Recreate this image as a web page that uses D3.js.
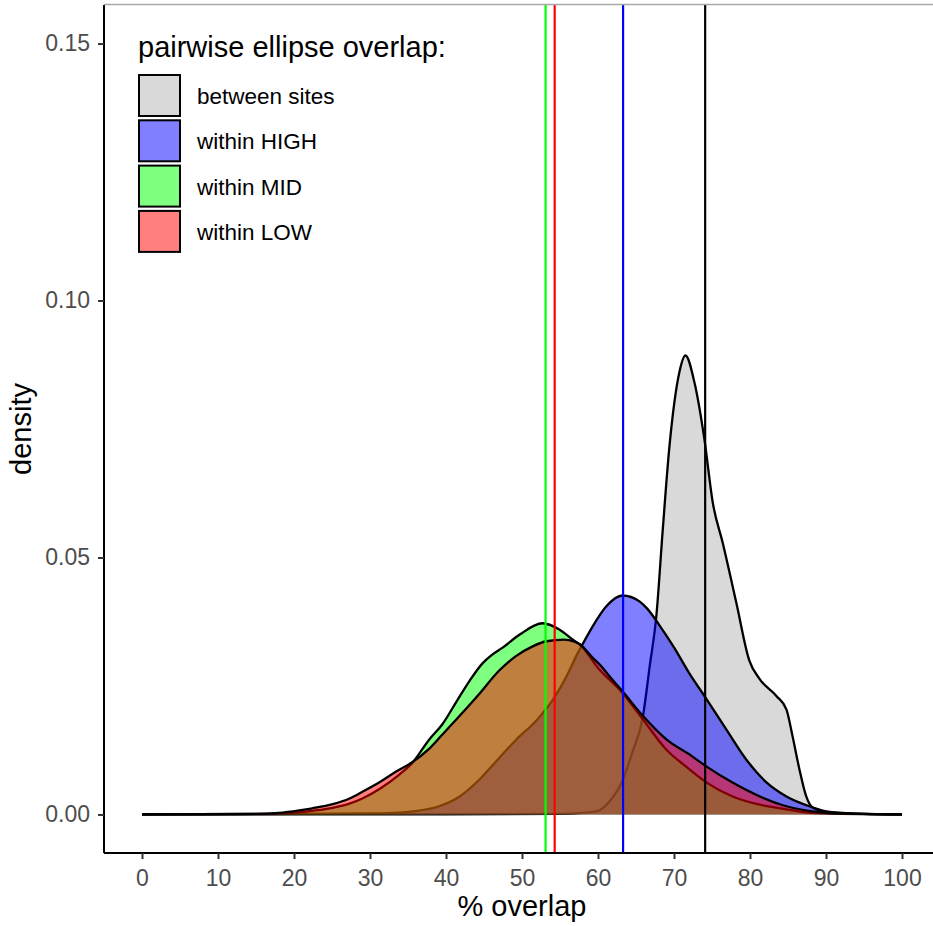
<!DOCTYPE html>
<html>
<head>
<meta charset="utf-8">
<script src="https://cdn.jsdelivr.net/npm/d3@7"></script>
<style>
  body { margin: 0; background: #fff; }
  text { font-family: "Liberation Sans", Arial, sans-serif; }
</style>
</head>
<body>
<div id="chart"></div>
<script>
// ---- DATA ----------------------------------------------
var seriesNames = ["between sites", "within HIGH", "within MID", "within LOW"];
var fillColors = ["#d9d9d9", "#0000ff", "#00ff00", "#ff0000"];
var fillAlpha = [1, 0.5, 0.5, 0.5];
var lineColors = ["#000000", "#0000ff", "#00ff00", "#ff0000"];
var meanOverlap = [74.1, 63.3, 53.1, 54.3];

var betweenX = [0, 40, 55, 58, 60, 61.5, 63.2, 64.5, 65.9, 66.8, 67.7, 68.5, 69.4, 70.7, 71.5, 72.7, 74, 75.1, 76.4, 78.2, 79.9, 81.3, 83.5, 84.8, 85.6, 86.5, 87.4, 88.2, 90, 93, 100];
var betweenY = [0, 0, 0.0001, 0.0003, 0.0007, 0.0025, 0.0065, 0.012, 0.019, 0.0288, 0.039, 0.055, 0.0716, 0.086, 0.0893, 0.084, 0.073, 0.0607, 0.0529, 0.0412, 0.030, 0.0263, 0.023, 0.0204, 0.0152, 0.0088, 0.0035, 0.0014, 0.0005, 0.0002, 0];

var highX = [0, 20, 30, 33, 35.6, 39.1, 41.8, 44.4, 47, 49.2, 51.9, 54.1, 55.9, 57.2, 58.3, 59.3, 61.1, 63.2, 65.5, 66.5, 68, 70, 72, 74.3, 76.9, 79.5, 82.2, 84.8, 88.2, 90, 95, 100];
var highY = [0, 0.0001, 0.0002, 0.0003, 0.0006, 0.0016, 0.0035, 0.0068, 0.011, 0.0145, 0.0183, 0.0224, 0.0270, 0.031, 0.034, 0.0366, 0.0405, 0.0426, 0.0414, 0.040, 0.037, 0.0325, 0.0275, 0.0224, 0.0165, 0.0107, 0.0062, 0.0035, 0.0014, 0.0006, 0.0001, 0];

var midX = [0, 15, 18.5, 20.7, 22.4, 25.1, 27.3, 29, 31.3, 33.9, 35.5, 37.8, 39.5, 41.4, 43.1, 44.8, 46, 47.5, 49.7, 52.7, 54.9, 56.7, 57.6, 60, 63.2, 65.9, 69, 71.6, 74.3, 77.7, 81.3, 84.8, 88, 92, 100];
var midY = [0, 0.0001, 0.0002, 0.0004, 0.0007, 0.0013, 0.0021, 0.0031, 0.005, 0.0078, 0.0099, 0.0146, 0.0175, 0.022, 0.026, 0.0294, 0.031, 0.0325, 0.035, 0.0372, 0.036, 0.034, 0.0331, 0.0285, 0.0237, 0.0185, 0.0126, 0.0093, 0.0062, 0.0035, 0.0019, 0.001, 0.0003, 0.0001, 0];

var lowX = [0, 15, 18, 20.7, 22.4, 25.1, 27.3, 29, 31.3, 33.5, 35.5, 37.8, 39.5, 41.8, 44.4, 47, 49.2, 51.4, 53.2, 55.5, 56.9, 57.6, 59.3, 60.2, 61.9, 63.2, 65.9, 69, 72.4, 74.3, 77.7, 81.3, 84.8, 88.2, 92, 100];
var lowY = [0, 0.0001, 0.0003, 0.0008, 0.0012, 0.002, 0.0031, 0.0044, 0.0063, 0.0084, 0.0101, 0.0128, 0.0155, 0.0192, 0.0235, 0.028, 0.0308, 0.0327, 0.0337, 0.034, 0.0336, 0.0331, 0.0305, 0.0292, 0.0262, 0.024, 0.0192, 0.0146, 0.0113, 0.0093, 0.0062, 0.0035, 0.0016, 0.0006, 0.0002, 0];

var xTicks = [0, 10, 20, 30, 40, 50, 60, 70, 80, 90, 100];
var yTicks = [0, 0.05, 0.10, 0.15];

// ---- LAYOUT -----------------------
var W = 933, H = 926;
var panelL = 104, panelR = 940, panelT = 5, panelB = 853;

var svg = d3.select("#chart").append("svg")
    .attr("width", W)
    .attr("height", H);

var x = d3.scaleLinear().domain([-5, 105]).range([panelL, panelR]);
var y = d3.scaleLinear().domain([-0.0075, 0.1575]).range([panelB, panelT]);

function toPoints(xs, ys) {
    return xs.map(function (v, i) { return { x: v, d: ys[i] }; });
}

var series = [
    toPoints(betweenX, betweenY),
    toPoints(highX, highY),
    toPoints(midX, midY),
    toPoints(lowX, lowY)
];

var area = d3.area()
    .x(function (p) { return x(p.x); })
    .y0(y(0))
    .y1(function (p) { return y(p.d); })
    .curve(d3.curveMonotoneX);

var line = d3.line()
    .x(function (p) { return x(p.x); })
    .y(function (p) { return y(p.d); })
    .curve(d3.curveMonotoneX);

// densities: fill then outline, in order, so later fills tint earlier outlines
series.forEach(function (pts, i) {
    svg.append("path")
        .datum(pts)
        .attr("d", area)
        .attr("fill", fillColors[i])
        .attr("fill-opacity", fillAlpha[i])
        .attr("stroke", "none");
    svg.append("path")
        .datum(pts)
        .attr("d", line)
        .attr("fill", "none")
        .attr("stroke", "#000")
        .attr("stroke-width", 2.3)
        .attr("stroke-linejoin", "round");
});

// mean lines
svg.selectAll(".vline")
    .data(meanOverlap)
    .enter().append("line")
    .attr("class", "vline")
    .attr("x1", function (d) { return x(d); })
    .attr("x2", function (d) { return x(d); })
    .attr("y1", panelT)
    .attr("y2", panelB)
    .attr("stroke", function (d, i) { return lineColors[i]; })
    .attr("stroke-width", 2.2);

// top border (light)
svg.append("line")
    .attr("x1", panelL).attr("x2", W)
    .attr("y1", 4.5).attr("y2", 4.5)
    .attr("stroke", "#a8a8a8")
    .attr("stroke-width", 1.5);

// ---- AXES -----------------------
var xAxis = svg.append("g")
    .attr("transform", "translate(0," + panelB + ")")
    .call(d3.axisBottom(x).tickValues(xTicks).tickSize(6).tickPadding(11).tickFormat(d3.format("d")));

var yAxis = svg.append("g")
    .attr("transform", "translate(" + panelL + ",0)")
    .call(d3.axisLeft(y).tickValues(yTicks).tickSize(6).tickPadding(8).tickFormat(d3.format(".2f")));

[xAxis, yAxis].forEach(function (g) {
    g.select(".domain").attr("stroke", "#000").attr("stroke-width", 2);
    g.selectAll(".tick line").attr("stroke", "#333").attr("stroke-width", 2);
    g.selectAll(".tick text")
        .attr("fill", "#4d4d4d")
        .style("font-size", "23px")
        .style("font-family", "'Liberation Sans', Arial, sans-serif");
});
xAxis.select(".domain").attr("d", "M" + panelL + ",0H" + panelR);
yAxis.select(".domain").attr("d", "M0," + panelT + "V" + panelB);

svg.append("text")
    .attr("x", (panelL + panelR) / 2)
    .attr("y", 916)
    .attr("text-anchor", "middle")
    .style("font-size", "29px")
    .attr("fill", "#000")
    .text("% overlap");

svg.append("text")
    .attr("transform", "translate(31," + ((panelT + panelB) / 2) + ") rotate(-90)")
    .attr("text-anchor", "middle")
    .style("font-size", "29px")
    .attr("fill", "#000")
    .text("density");

// ---- LEGEND -----------------------
var legend = svg.append("g").attr("transform", "translate(138,0)");

legend.append("text")
    .attr("x", 0)
    .attr("y", 57)
    .style("font-size", "29px")
    .attr("fill", "#000")
    .text("pairwise ellipse overlap:");

var keys = legend.selectAll(".key")
    .data(seriesNames)
    .enter().append("g")
    .attr("class", "key")
    .attr("transform", function (d, i) { return "translate(0," + (74 + i * 45.3) + ")"; });

keys.append("rect")
    .attr("x", 1).attr("y", 1)
    .attr("width", 41).attr("height", 41)
    .attr("fill", function (d, i) { return fillColors[i]; })
    .attr("fill-opacity", function (d, i) { return fillAlpha[i]; })
    .attr("stroke", "#000")
    .attr("stroke-width", 2);

keys.append("text")
    .attr("x", 59)
    .attr("y", 30)
    .style("font-size", "22.5px")
    .attr("fill", "#000")
    .text(function (d) { return d; });
</script>
</body>
</html>
